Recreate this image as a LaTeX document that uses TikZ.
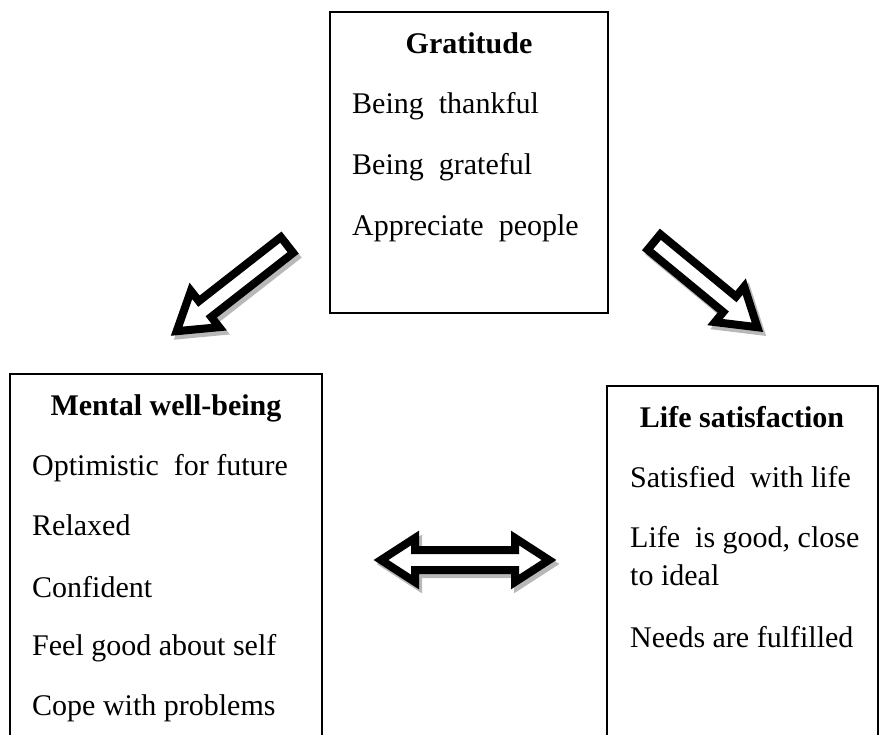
\documentclass[tikz,border=0pt]{standalone}
\usepackage{fontspec}
\setmainfont{Liberation Serif}
\begin{document}
\begin{tikzpicture}[x=1pt,y=-1pt,
  box/.style={draw, line width=2.5pt},
  txt/.style={anchor=base west, inner sep=0pt, font=\fontsize{30}{36}\selectfont},
  ttl/.style={anchor=base, inner sep=0pt, font=\fontsize{30}{36}\selectfont\bfseries},
  blockarrow/.style={draw=black, fill=white, line width=8pt, line join=miter, miter limit=10},
  shadowarrow/.style={draw=black!28, fill=black!28, line width=8pt, line join=miter, miter limit=10}]
\useasboundingbox (0,0) rectangle (884,734);
% boxes
\draw[box] (330,12) rectangle (608,313);
\coordinate (gbox) at (469,12);
\draw[box] (10,374) rectangle (322,760);
\draw[box] (607,386) rectangle (878,760);
% Gratitude box text
\node[ttl] (gt) at (469,53) {Gratitude};
\node[txt] (g1) at (352,113) {Being\ \ thankful};
\node[txt] (g2) at (352,174) {Being\ \ grateful};
\node[txt] (g3) at (352,235) {Appreciate\ \ people};
% Mental well-being
\node[ttl] (mt) at (166,415) {Mental well-being};
\node[txt] (m1) at (32,475) {Optimistic\ \ for future};
\node[txt] (m2) at (32,535) {Relaxed};
\node[txt] (m3) at (32,597) {Confident};
\node[txt] (m4) at (32,655) {Feel good about self};
\node[txt] (m5) at (32,715) {Cope with problems};
% Life satisfaction
\node[ttl] (lt) at (742,427) {Life satisfaction};
\node[txt] (l1) at (630,487) {Satisfied\ \ with life};
\node[txt] (l2) at (630,547) {Life\ \ is good, close};
\node[txt] (l3) at (630,585) {to ideal};
\node[txt] (l4) at (630,647) {Needs are fulfilled};
% left diagonal arrow
\foreach \st/\dx/\dy in {shadowarrow/3/4, blockarrow/0/0}{
  \begin{scope}[shift={(287+\dx,245+\dy)}, rotate=218]
    \path[\st] (0,-10) -- (104,-10) -- (104,-23) -- (140,0) -- (104,23) -- (104,10) -- (0,10) -- cycle;
  \end{scope}
  \begin{scope}[shift={(654+\dx,242+\dy)}, rotate=-39.5]
    \path[\st] (0,-10) -- (98,-10) -- (98,-23) -- (134,0) -- (98,23) -- (98,10) -- (0,10) -- cycle;
  \end{scope}
  \begin{scope}[shift={(\dx,\dy)}]
    \path[\st] (381,560) -- (415,538) -- (415,550) -- (515,550) -- (515,538) -- (549,560)
      -- (515,582) -- (515,570) -- (415,570) -- (415,582) -- cycle;
  \end{scope}
}
\end{tikzpicture}
\end{document}
